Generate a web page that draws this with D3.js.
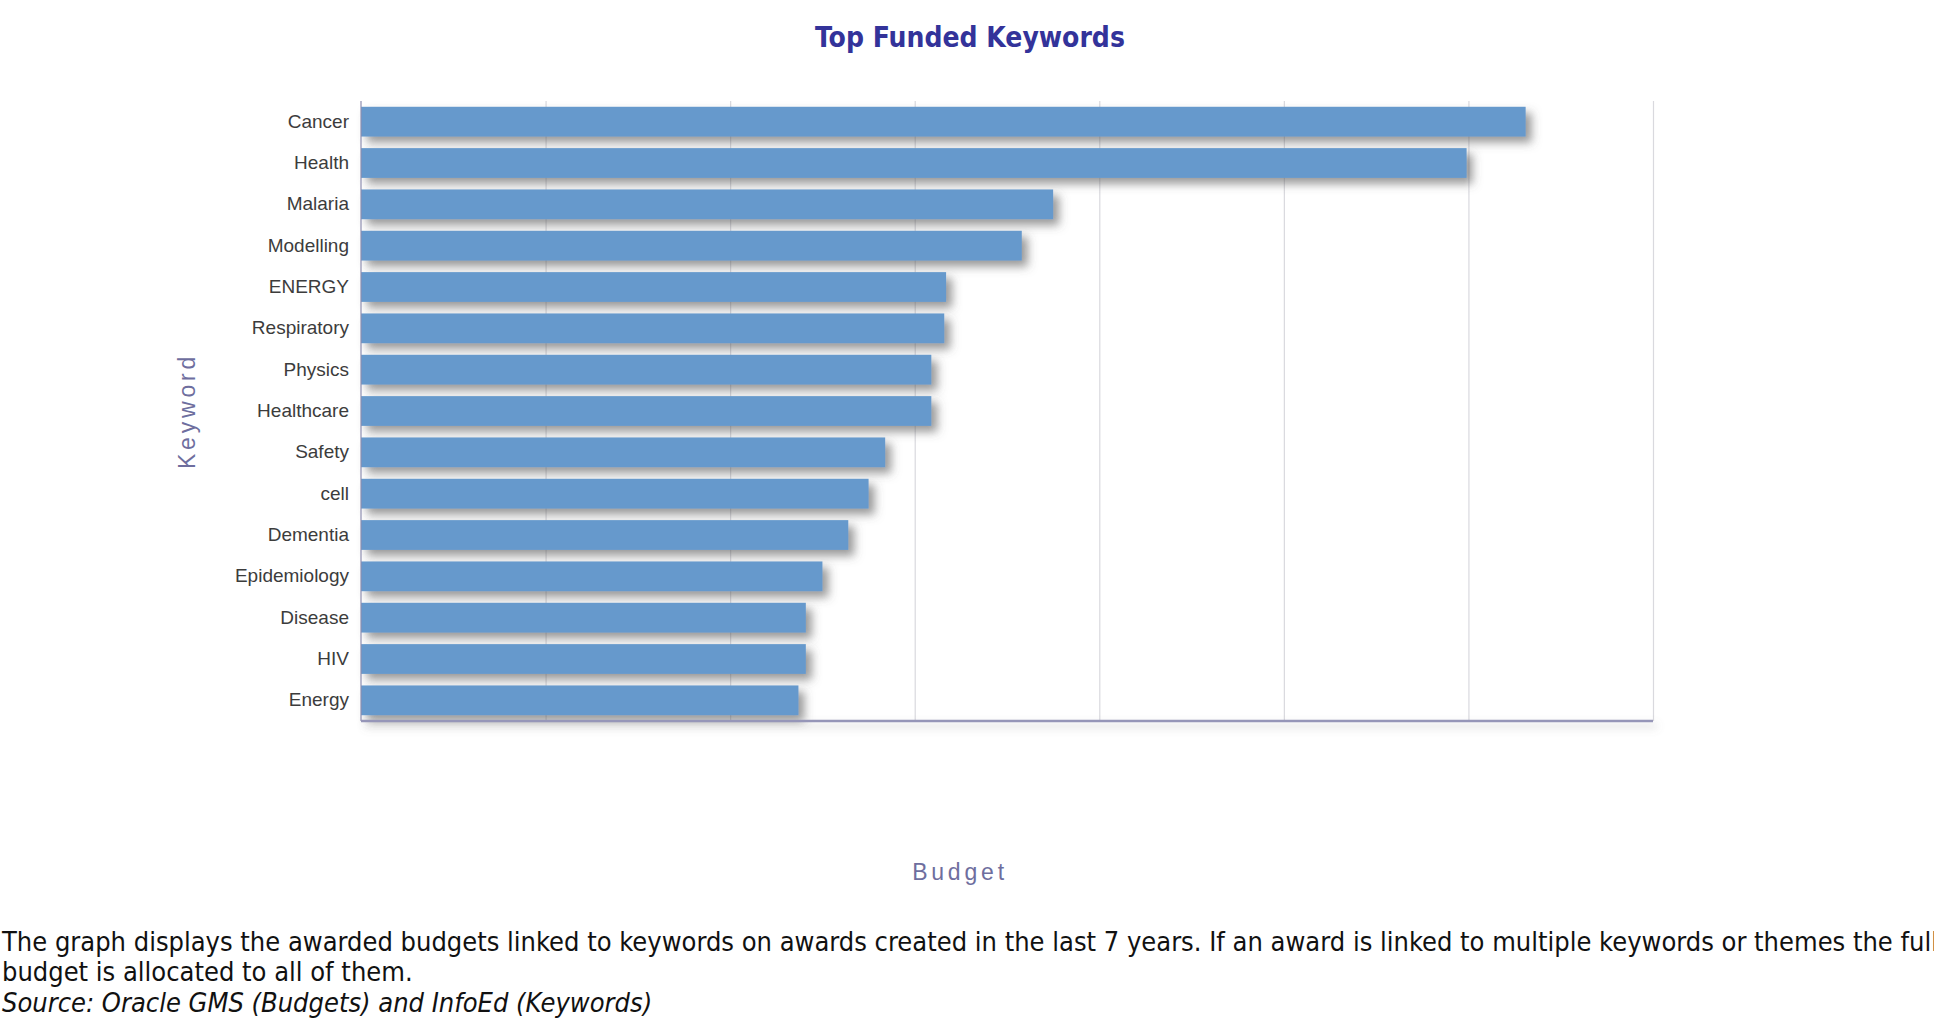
<!DOCTYPE html>
<html>
<head>
<meta charset="utf-8">
<script src="https://cdn.jsdelivr.net/npm/d3@7"></script>
<style>
  body { margin: 0; background: #fff; overflow: hidden; }
</style>
</head>
<body>
<div id="grafica"></div>
<script>
// --- Datos
const keywords = ["Cancer", "Health", "Malaria", "Modelling", "ENERGY", "Respiratory", "Physics",
                  "Healthcare", "Safety", "cell", "Dementia", "Epidemiology", "Disease", "HIV", "Energy"];
const budgets = [63.1, 59.9, 37.5, 35.8, 31.7, 31.6, 30.9, 30.9, 28.4, 27.5, 26.4, 25.0, 24.1, 24.1, 23.7];
const budgetTicks = [0, 10, 20, 30, 40, 50, 60, 70];

const title = "Top Funded Keywords";
const notes = [
  "The graph displays the awarded budgets linked to keywords on awards created in the last 7 years. If an award is linked to multiple keywords or themes the full",
  "budget is allocated to all of them."
];
const source = "Source: Oracle GMS (Budgets) and InfoEd (Keywords)";

// --- Grafica
const widthApp = 1934, heightApp = 1030;
const plotLeft = 361, plotRight = 1653, plotTop = 101, plotBottom = 721;

const x = d3.scaleLinear().domain([0, 70]).range([plotLeft, plotRight]);
const y = d3.scaleBand().domain(keywords).range([plotTop, plotBottom])
            .paddingInner(0.28).paddingOuter(0.14);

const svg = d3.select("#grafica")
              .append('svg')
              .attr('width', widthApp)
              .attr('height', heightApp);

const defs = svg.append('defs');
defs.append('filter').attr('id', 'sombra')
    .attr('x', '-5%').attr('y', '-60%').attr('width', '120%').attr('height', '280%')
    .append('feDropShadow')
    .attr('dx', 6).attr('dy', 6).attr('stdDeviation', 5)
    .attr('flood-color', '#555').attr('flood-opacity', 0.6);
defs.append('filter').attr('id', 'sombraEje')
    .attr('filterUnits', 'userSpaceOnUse')
    .attr('x', plotLeft - 10).attr('y', plotBottom - 10).attr('width', plotRight - plotLeft + 30).attr('height', 40)
    .append('feDropShadow')
    .attr('dx', 4).attr('dy', 5).attr('stdDeviation', 4)
    .attr('flood-color', '#777').attr('flood-opacity', 0.4);

// titulo
svg.append('text')
   .attr('x', 970).attr('y', 47)
   .attr('text-anchor', 'middle')
   .style('font-family', '"DejaVu Sans Condensed", "DejaVu Sans", sans-serif')
   .style('font-weight', 'bold')
   .style('font-size', '28px')
   .attr('fill', '#33339a')
   .text(title);

// rejilla
svg.append('g')
   .attr('transform', `translate(0,${plotBottom})`)
   .call(d3.axisBottom(x).tickValues(budgetTicks.slice(1)).tickSize(-(plotBottom - plotTop)).tickFormat(''))
   .call(g => g.select('.domain').remove())
   .call(g => g.selectAll('line').attr('stroke', '#d9d9de').attr('stroke-width', 1.2));

// barras
svg.append('g')
   .selectAll('rect')
   .data(keywords)
   .enter()
   .append('rect')
   .attr('x', x(0))
   .attr('y', (k) => y(k))
   .attr('width', (k, i) => x(budgets[i]) - x(0))
   .attr('height', y.bandwidth())
   .attr('fill', '#6699cc')
   .attr('filter', 'url(#sombra)');

// ejes
svg.append('line')
   .attr('x1', plotLeft).attr('x2', plotLeft).attr('y1', plotTop).attr('y2', plotBottom)
   .attr('stroke', '#8e8eb0').attr('stroke-width', 1.2);
svg.append('line')
   .attr('x1', plotLeft).attr('x2', plotRight).attr('y1', plotBottom).attr('y2', plotBottom)
   .attr('stroke', '#9696b8').attr('stroke-width', 2.5)
   .attr('filter', 'url(#sombraEje)');

// etiquetas de categorias
svg.append('g')
   .attr('transform', `translate(${plotLeft - 12},0)`)
   .call(d3.axisLeft(y).tickSize(0).tickPadding(0))
   .call(g => g.select('.domain').remove())
   .call(g => g.selectAll('text')
                .attr('fill', '#3c3c3c')
                .style('font-family', '"Liberation Sans", Arial, sans-serif')
                .style('font-size', '19px'));

// titulos de ejes
svg.append('text')
   .attr('transform', `translate(195,${(plotTop + plotBottom) / 2}) rotate(-90)`)
   .attr('text-anchor', 'middle')
   .style('font-family', '"Liberation Sans", Arial, sans-serif')
   .style('font-size', '23px')
   .style('letter-spacing', '3.8px')
   .attr('fill', '#6e6e9e')
   .text('Keyword');
svg.append('text')
   .attr('x', 960).attr('y', 880)
   .attr('text-anchor', 'middle')
   .style('font-family', '"Liberation Sans", Arial, sans-serif')
   .style('font-size', '23px')
   .style('letter-spacing', '3.8px')
   .attr('fill', '#6e6e9e')
   .text('Budget');

// nota al pie
const pie = svg.append('g')
               .style('font-family', '"DejaVu Sans Condensed", "DejaVu Sans", sans-serif')
               .style('font-size', '27px')
               .attr('fill', '#111');
pie.selectAll('text.nota')
   .data(notes)
   .enter()
   .append('text')
   .attr('class', 'nota')
   .attr('x', 2)
   .attr('y', (d, i) => 951 + i * 30)
   .text((d) => d);
pie.append('text')
   .attr('x', 2).attr('y', 1012)
   .style('font-style', 'italic')
   .text(source);
</script>
</body>
</html>
